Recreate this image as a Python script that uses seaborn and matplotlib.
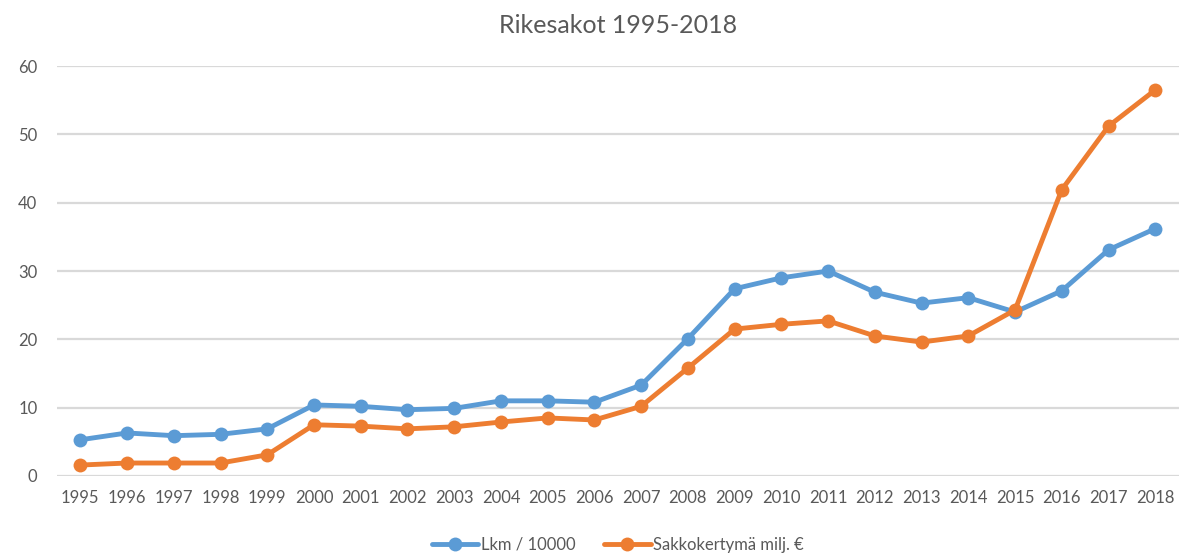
import matplotlib
matplotlib.use('Agg')
import matplotlib.pyplot as plt
import seaborn as sns
import pandas as pd

years = list(range(1995, 2019))
lkm = [5.3, 6.3, 5.9, 6.1, 6.9, 10.4, 10.2, 9.7, 9.9, 11.0, 11.0, 10.8,
       13.3, 20.1, 27.4, 29.0, 30.0, 26.9, 25.3, 26.1, 24.0, 27.1, 33.1, 36.2]
sakot = [1.6, 1.9, 1.9, 1.9, 3.1, 7.5, 7.3, 6.9, 7.2, 7.9, 8.5, 8.2,
         10.2, 15.8, 21.5, 22.2, 22.7, 20.5, 19.6, 20.5, 24.3, 41.9, 51.2, 56.5]
series_names = ["Lkm / 10000", "Sakkokertymä milj. €"]
colors = ["#5B9BD5", "#ED7D31"]

df = pd.DataFrame({
    "vuosi": years * 2,
    "arvo": lkm + sakot,
    "sarja": [series_names[0]] * len(years) + [series_names[1]] * len(years),
})

sns.set_style("white")
plt.rcParams['font.family'] = ['Lato', 'DejaVu Sans']
text_color = "#595959"

fig = plt.figure(figsize=(11.99, 5.54), dpi=100)
ax = fig.add_axes([0.0475, 0.1408, 0.9355, 0.7400])

sns.lineplot(data=df, x="vuosi", y="arvo", hue="sarja", palette=colors,
             marker="o", markersize=10, markeredgewidth=0, linewidth=3.5,
             ax=ax, legend=True)

ax.set_xlim(1994.5, 2018.5)
ax.set_ylim(0, 60)
ax.set_yticks(range(0, 61, 10))
ax.set_xticks(years)
ax.set_xticklabels([str(y) for y in years])
ax.grid(axis='y', color="#D9D9D9", linewidth=1.6)
ax.grid(axis='x', visible=False)
for s in ax.spines.values():
    s.set_visible(False)
ax.tick_params(axis='both', length=0, labelsize=12, colors=text_color)
ax.tick_params(axis='y', pad=14)
ax.tick_params(axis='x', pad=10)
ax.set_xlabel("")
ax.set_ylabel("")
ax.set_title("Rikesakot 1995-2018", fontsize=18, color=text_color, pad=24)

handles, labels = ax.get_legend_handles_labels()
ax.legend(handles, labels, loc='center', bbox_to_anchor=(0.5, -0.168),
          ncol=2, frameon=False, fontsize=12, labelcolor=text_color,
          handlelength=2.8, columnspacing=1.7, handletextpad=0.15,
          borderpad=0, borderaxespad=0)

fig.savefig("out.png", dpi=100)
